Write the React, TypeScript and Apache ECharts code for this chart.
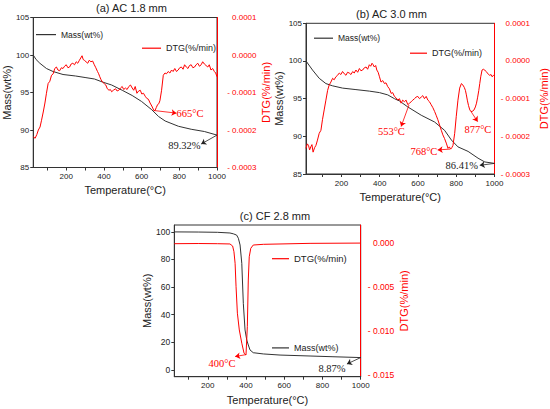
import React, { useEffect, useRef } from "react";
import * as echarts from "echarts";

const FONT = "Liberation Sans, Arial, sans-serif";
const SERIF = "Liberation Serif";
const BLACK = "#333333";
const RED = "#ff0000";

// ---------- tick labels ----------
const tempTicks = [100, 200, 300, 400, 500, 600, 700, 800, 900, 1000];
const tempLabels = [200, 400, 600, 800, 1000];
const acDtgTicks = [0.0001, 0, -0.0001, -0.0002, -0.0003];
const cfMassTicks = [0, 20, 40, 60, 80, 100];
const cfDtgTicks = [0, -0.005, -0.01, -0.015];

// ---------- (a) AC 1.8 mm ----------
const massA: [number, number][] = [
  [25, 100], [40, 99.4], [60, 98.9], [95, 98.2], [130, 97.8], [183, 97.4], [250, 97.2],
  [300, 97.0], [350, 96.8], [392, 96.4], [441, 96.0], [497, 95.3], [550, 94.6], [600, 93.8],
  [654, 92.7], [690, 91.8], [725, 91.2], [795, 90.5], [863, 90.1], [933, 89.8], [1000, 89.32],
];
const dtgA: [number, number][] = [
  [25, -0.000218], [35, -0.000222], [44, -0.000212], [52, -0.0002], [61, -0.000192], [69, -0.000174],
  [78, -0.000152], [87, -0.000128], [95, -0.000102], [104, -0.000076], [113, -0.00007], [122, -0.000054],
  [131, -0.00005], [139, -0.000036], [148, -0.000032], [156, -0.00004], [165, -0.000042],
  [174, -0.000034], [183, -0.000036], [191, -0.00003], [200, -0.000026], [209, -0.000034],
  [218, -0.000032], [226, -0.000024], [235, -0.000022], [244, -0.000026], [253, -0.000018],
  [261, -0.000022], [270, -0.000014], [277, -0.000008], [284, -0.000002], [290, -0.000012],
  [296, -0.000014], [305, -0.000018], [314, -0.000022], [322, -0.000014], [331, -0.000018],
  [340, -0.000016], [349, -0.000026], [357, -0.000034], [366, -0.000044], [372, -0.00005],
  [378, -0.000058], [385, -0.000066], [392, -0.000072], [401, -0.000076], [410, -0.00008],
  [418, -0.00009], [427, -0.000094], [434, -0.000092], [441, -0.000098], [450, -0.000094],
  [462, -0.00009], [470, -0.000096], [479, -0.000094], [488, -0.000088], [497, -0.000084],
  [505, -0.000092], [514, -0.000088], [523, -0.000092], [532, -0.000084], [541, -0.00008],
  [550, -0.000088], [558, -0.000094], [566, -0.000084], [575, -0.000102], [584, -0.000096],
  [593, -0.000094], [601, -0.000104], [610, -0.000102], [619, -0.00011], [628, -0.000116],
  [636, -0.000118], [645, -0.000128], [654, -0.000136], [665, -0.000148], [671, -0.000148],
  [678, -0.00014], [685, -0.000132], [691, -0.00013], [697, -0.000122], [706, -0.000094],
  [715, -0.000054], [724, -0.000048], [732, -0.00005], [741, -0.000044], [750, -0.000048],
  [759, -0.00004], [767, -0.000044], [776, -0.000036], [785, -0.000044], [794, -0.00004],
  [802, -0.000034], [811, -0.000032], [820, -0.000038], [828, -0.000026], [837, -0.000032],
  [846, -0.000036], [854, -0.000028], [863, -0.000026], [872, -0.000034], [881, -0.000032],
  [889, -0.000026], [898, -0.000022], [907, -0.00003], [916, -0.000026], [924, -0.000018],
  [933, -0.000024], [942, -0.000028], [951, -0.000032], [959, -0.000026], [968, -0.00004],
  [977, -0.000036], [986, -0.000044], [993, -0.000048], [1000, -0.000058],
];

// ---------- (b) AC 3.0 mm ----------
const massB: [number, number][] = [
  [15, 100], [49, 98.8], [84, 97.7], [119, 97.0], [154, 96.7], [206, 96.4], [276, 96.2],
  [346, 96.0], [399, 95.8], [442, 95.5], [477, 95.0], [503, 94.7], [547, 93.9], [617, 92.8],
  [687, 91.9], [739, 90.8], [775, 89.5], [809, 88.6], [862, 88.0], [914, 87.1], [949, 86.6],
  [1000, 86.41],
];
const dtgB: [number, number][] = [
  [15, -0.000232], [22, -0.00022], [28, -0.000224], [34, -0.000236], [40, -0.000228],
  [46, -0.000222], [52, -0.000242], [60, -0.00023], [67, -0.000224], [75, -0.00021],
  [84, -0.000192], [93, -0.000184], [101, -0.000156], [110, -0.00013], [119, -0.000104],
  [128, -0.000078], [136, -0.000064], [145, -0.000056], [154, -0.000046], [162, -0.00005],
  [171, -0.000042], [180, -0.000038], [189, -0.000032], [197, -0.000036], [206, -0.000028],
  [215, -0.000034], [224, -0.000038], [232, -0.00003], [241, -0.000032], [250, -0.000036],
  [259, -0.000028], [267, -0.000032], [276, -0.000024], [285, -0.00003], [294, -0.00002],
  [302, -0.000026], [311, -0.000024], [320, -0.000018], [329, -0.000016], [337, -0.000022],
  [346, -0.00001], [353, -0.000014], [360, -0.000006], [366, -0.00001], [372, -0.000016],
  [379, -0.000012], [385, -0.000024], [392, -0.00003], [399, -0.000042], [407, -0.000056],
  [416, -0.000052], [425, -0.00006], [433, -0.000058], [442, -0.000068], [451, -0.000074],
  [460, -0.000086], [468, -0.000084], [477, -0.000094], [486, -0.000098], [495, -0.000104],
  [503, -0.0001], [512, -0.000112], [520, -0.000104], [529, -0.000108], [538, -0.000104],
  [547, -0.000116], [556, -0.000112], [565, -0.000108], [573, -0.000104], [582, -0.0001],
  [590, -0.000096], [599, -0.000094], [608, -0.0001], [617, -0.000096], [625, -0.000092],
  [634, -0.0001], [643, -0.000094], [652, -0.000104], [660, -0.000108], [669, -0.000116],
  [678, -0.000124], [687, -0.000134], [695, -0.000144], [704, -0.000156], [713, -0.00017],
  [722, -0.000184], [730, -0.000196], [739, -0.000206], [748, -0.000218], [757, -0.000232],
  [764, -0.000228], [771, -0.000234], [777, -0.00023], [783, -0.000224], [792, -0.000192],
  [800, -0.000148], [809, -0.000104], [818, -0.000072], [827, -0.00006], [835, -0.000064],
  [842, -0.00007], [848, -0.000078], [853, -0.00009], [858, -0.000104], [864, -0.000118],
  [871, -0.00013], [877, -0.000134], [883, -0.000134], [893, -0.00013], [900, -0.000122],
  [906, -0.000112], [912, -0.000096], [918, -0.000078], [923, -0.00006], [928, -0.000042],
  [935, -0.000024], [942, -0.000022], [949, -0.000024], [956, -0.000028], [963, -0.000032],
  [969, -0.000036], [975, -0.000038], [982, -0.000036], [988, -0.000042], [994, -0.000038],
  [1000, -0.00004],
];

// ---------- (c) CF 2.8 mm ----------
const massC: [number, number][] = [
  [25, 100], [150, 99.9], [250, 99.7], [316, 99.2], [334, 98.6], [351, 97.7], [360, 95.4],
  [369, 90.5], [378, 77.2], [386, 48.2], [395, 28.9], [404, 21.6], [412, 18.0], [421, 14.4],
  [438, 12.4], [491, 11.5], [578, 10.7], [735, 10.0], [850, 9.5], [1000, 8.87],
];
const dtgC: [number, number][] = [
  [25, -0.00012], [150, -0.0001], [250, -0.00012], [316, -0.00015], [330, -0.00038],
  [337, -0.00103], [343, -0.00234], [348, -0.005], [355, -0.008], [365, -0.0099],
  [378, -0.0114], [390, -0.01255], [400, -0.01274], [407, -0.00953], [412, -0.00424],
  [417, -0.0016], [425, -0.00064], [438, -0.00027], [491, -0.00019], [735, -0.00008],
  [1000, -0.00005],
];

// ---------- annotations (data coordinates) ----------
type Note = { text: string; curve: [number, number]; head: [number, number]; label: [number, number] };
const notesDtgA: Note[] = [{ text: "665°C", curve: [665, -0.000148], head: [785, -0.000155], label: [857, -0.000155] }];
const notesMassA: Note[] = [{ text: "89.32%", curve: [1000, 89.32], head: [916, 88.13], label: [827, 87.9] }];
const notesDtgB: Note[] = [
  { text: "553°C", curve: [553, -0.000117], head: [512, -0.000174], label: [461, -0.000186] },
  { text: "768°C", curve: [768, -0.000234], head: [703, -0.000236], label: [631, -0.000241] },
  { text: "877°C", curve: [877, -0.000134], head: [912, -0.000161], label: [913, -0.000183] },
];
const notesMassB: Note[] = [{ text: "86.41%", curve: [1000, 86.41], head: [923, 86.15], label: [829, 86.1] }];
const notesDtgC: Note[] = [{ text: "400°C", curve: [400, -0.0127], head: [343, -0.01291], label: [274, -0.01376] }];
const notesMassC: Note[] = [{ text: "8.87%", curve: [1000, 8.87], head: [928, 4.2], label: [850, 1.3] }];

function marks(notes: Note[], color: string) {
  const rich = { s: { fontFamily: SERIF, fontSize: 10.5, color } };
  return {
    markLine: {
      silent: true,
      animation: false,
      symbol: ["none", "arrow"],
      symbolSize: 5,
      lineStyle: { color, width: 0.8, type: "solid" },
      label: { show: false },
      emphasis: { disabled: true },
      data: notes.map((n) => [{ coord: n.curve }, { coord: n.head }]),
    },
    markPoint: {
      silent: true,
      animation: false,
      symbol: "circle",
      symbolSize: 0,
      itemStyle: { color: "transparent", opacity: 1 },
      label: { show: true, position: "inside", color, fontSize: 10.5, fontFamily: SERIF, rich },
      data: notes.map((n) => ({
        coord: n.label,
        label: {
          show: true,
          position: "inside",
          formatter: "{s|" + n.text + "}",
          color,
          fontSize: 10.5,
          fontFamily: SERIF,
          rich,
        },
      })),
    },
  };
}

type Panel = {
  left: number; top: number; width: number; height: number; xMin: number;
  nameGapX: number; nameGapL: number; nameGapR: number; rMargin: number; rFont: number;
};
const panels: Panel[] = [
  { left: 30, top: 17.5, width: 187, height: 150, xMin: 25, nameGapX: 17, nameGapL: 16.5, nameGapR: 42, rMargin: 39.5, rFont: 8 },
  { left: 306, top: 23.3, width: 188.7, height: 150.7, xMin: 15, nameGapX: 17, nameGapL: 16, nameGapR: 43.5, rMargin: 35.5, rFont: 8 },
  { left: 174.3, top: 225, width: 186.4, height: 151.7, xMin: 25, nameGapX: 18, nameGapL: 17.5, nameGapR: 37.5, rMargin: 33.5, rFont: 8.5 },
];

function lineSeries(name: string, data: [number, number][], idx: number, yIdx: number, color: string, notes: Note[]) {
  return {
    name,
    type: "line",
    xAxisIndex: idx,
    yAxisIndex: yIdx,
    data,
    symbol: "none",
    showSymbol: false,
    smooth: false,
    lineStyle: { color, width: 1 },
    itemStyle: { color },
    emphasis: { disabled: true },
    z: color === RED ? 3 : 2,
    ...marks(notes, color === RED ? RED : "#222"),
  };
}

function legend(name: string, left: number, centerY: number, itemWidth: number, fontSize: number) {
  return {
    data: [{ name, icon: "rect" }],
    left,
    top: centerY - 0.6,
    itemWidth,
    itemHeight: 1.2,
    padding: 0,
    selectedMode: false,
    textStyle: { fontSize, color: "#222", fontFamily: FONT },
  };
}

export default function App() {
  const ref = useRef<HTMLDivElement>(null);
  useEffect(() => {
    if (!ref.current) return;
    const chart = echarts.init(ref.current, undefined, { renderer: "svg" });
    const fmt4 = (v: number) => (v < -1e-12 ? "- " : "") + Math.abs(v).toFixed(4);
    const fmt3 = (v: number) => (v < -1e-12 ? "- " : "") + Math.abs(v).toFixed(3);

    const grid = panels.map((p) => ({
      left: p.left, top: p.top, width: p.width, height: p.height,
      show: true, borderColor: BLACK, borderWidth: 1, backgroundColor: "transparent",
    }));
    const xAxis = panels.map((p, i) => ({
      gridIndex: i, type: "value", min: p.xMin, max: 1000,
      axisLine: { show: true, onZero: false, lineStyle: { color: BLACK, width: 1 } },
      axisTick: { show: true, customValues: tempTicks, length: 3, lineStyle: { color: BLACK } },
      axisLabel: {
        customValues: tempLabels, formatter: (v: number) => String(Math.round(v)),
        fontSize: 8, color: "#222", margin: 5, fontFamily: FONT,
      },
      splitLine: { show: false },
      name: "Temperature(°C)", nameLocation: "middle", nameGap: p.nameGapX,
      nameTextStyle: { fontSize: 11, color: "#222", fontFamily: FONT },
    }));
    const leftCommon = (i: number, p: Panel) => ({
      gridIndex: i, type: "value", position: "left",
      axisLine: { show: true, onZero: false, lineStyle: { color: BLACK, width: 1 } },
      axisTick: { show: true, length: 3, lineStyle: { color: BLACK } },
      axisLabel: { fontSize: 8, color: "#222", margin: 4, fontFamily: FONT },
      splitLine: { show: false },
      name: "Mass(wt%)", nameLocation: "middle", nameGap: p.nameGapL,
      nameTextStyle: { fontSize: 11, color: "#222", fontFamily: FONT },
    });
    const rightCommon = (i: number, p: Panel) => ({
      gridIndex: i, type: "value", position: "right",
      axisLine: { show: true, onZero: false, lineStyle: { color: RED, width: 1 } },
      axisTick: { show: false },
      splitLine: { show: false },
      name: "DTG(%/min)", nameLocation: "middle", nameGap: p.nameGapR, nameRotate: 90,
      nameTextStyle: { fontSize: 11, color: RED, fontFamily: FONT },
    });
    const yAxis = [
      { ...leftCommon(0, panels[0]), min: 85, max: 105, interval: 5 },
      {
        ...rightCommon(0, panels[0]), min: -0.0003, max: 0.0001,
        axisLabel: { customValues: acDtgTicks, formatter: fmt4, align: "right", margin: panels[0].rMargin, fontSize: panels[0].rFont, color: RED, fontFamily: FONT },
      },
      { ...leftCommon(1, panels[1]), min: 85, max: 105, interval: 5 },
      {
        ...rightCommon(1, panels[1]), min: -0.0003, max: 0.0001,
        axisLabel: { customValues: acDtgTicks, formatter: fmt4, align: "right", margin: panels[1].rMargin, fontSize: panels[1].rFont, color: RED, fontFamily: FONT },
      },
      {
        ...leftCommon(2, panels[2]), min: -5, max: 105,
        axisTick: { show: true, length: 3, customValues: cfMassTicks, lineStyle: { color: BLACK } },
        axisLabel: { customValues: cfMassTicks, fontSize: 8.5, color: "#222", margin: 4, fontFamily: FONT },
      },
      {
        ...rightCommon(2, panels[2]), min: -0.0152, max: 0.002,
        axisLabel: { customValues: cfDtgTicks, formatter: fmt3, align: "right", margin: panels[2].rMargin, fontSize: panels[2].rFont, color: RED, fontFamily: FONT },
      },
    ];

    const titleText = (text: string, x: number, y: number) => ({
      type: "text", x, y, silent: true,
      style: { text, textAlign: "center", textVerticalAlign: "middle", fontSize: 11, fontFamily: FONT, fill: "#222" },
    });

    chart.setOption({
      animation: false,
      backgroundColor: "#ffffff",
      grid,
      xAxis,
      yAxis,
      legend: [
        legend("Mass(wt%)", 36, 30.7, 20, 8.5),
        legend("DTG(%/min)", 142, 44.3, 19, 9),
        legend("Mass(wt%)", 314, 34.3, 19, 8.5),
        legend("DTG(%/min)", 410, 49.3, 17, 9),
        legend("DTG(%/min)", 272, 254.3, 17, 9.5),
        legend("Mass(wt%)", 272, 344, 17, 9),
      ],
      graphic: [
        titleText("(a) AC 1.8 mm", 131.5, 7.5),
        titleText("(b) AC 3.0 mm", 391.5, 14),
        titleText("(c) CF 2.8 mm", 275, 215.7),
      ],
      series: [
        lineSeries("Mass(wt%)", massA, 0, 0, BLACK, notesMassA),
        lineSeries("DTG(%/min)", dtgA, 0, 1, RED, notesDtgA),
        lineSeries("Mass(wt%)", massB, 1, 2, BLACK, notesMassB),
        lineSeries("DTG(%/min)", dtgB, 1, 3, RED, notesDtgB),
        lineSeries("Mass(wt%)", massC, 2, 4, BLACK, notesMassC),
        lineSeries("DTG(%/min)", dtgC, 2, 5, RED, notesDtgC),
      ],
    });
    return () => chart.dispose();
  }, []);
  return (
    <div
      ref={ref}
      style={{ position: "absolute", left: 0, top: 0, width: 550, height: 409, background: "#fff" }}
    />
  );
}
